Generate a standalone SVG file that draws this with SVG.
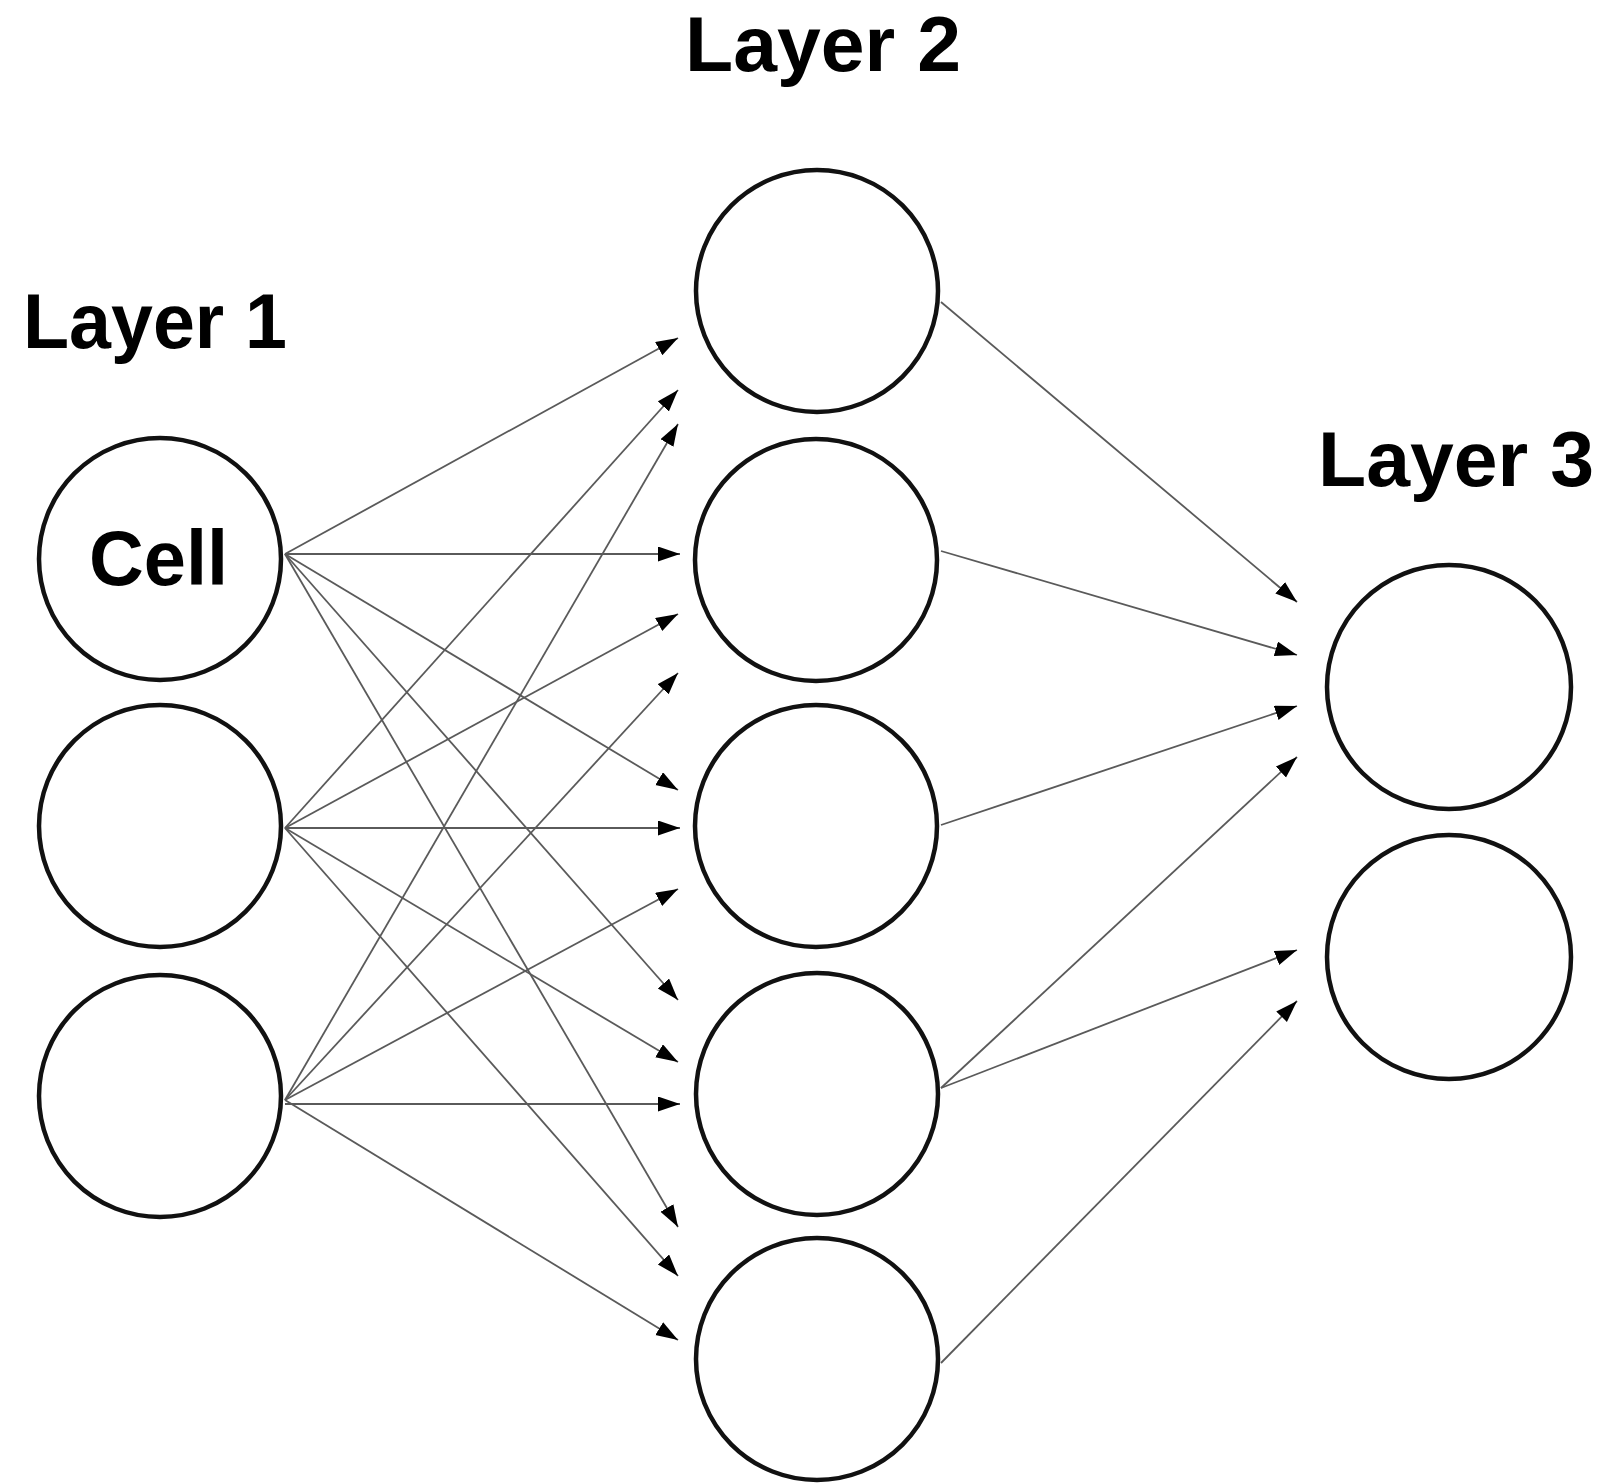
<svg xmlns="http://www.w3.org/2000/svg" width="1607" height="1484" viewBox="0 0 1607 1484">
<defs>
<style>
.node{fill:#fff;stroke:#111;stroke-width:4.5}
.edge{stroke:#5a5a5a;stroke-width:1.8;fill:none;marker-end:url(#arrow)}
.label{font-family:"Liberation Sans",Arial,Helvetica,sans-serif;font-weight:bold;font-size:78px;fill:#000}
</style>
<marker id="arrow" markerUnits="userSpaceOnUse" markerWidth="24" markerHeight="16" refX="22" refY="7.5" orient="auto">
<path d="M0,0 L22,7.5 L0,15 Z" fill="#000"/>
</marker>
</defs>
<rect width="1607" height="1484" fill="#fff"/>
<g id="connectors">
<line class="edge" x1="285" y1="554" x2="678" y2="338"/>
<line class="edge" x1="285" y1="554" x2="680" y2="554"/>
<line class="edge" x1="285" y1="554" x2="678" y2="790"/>
<line class="edge" x1="285" y1="554" x2="678" y2="1000"/>
<line class="edge" x1="285" y1="554" x2="678" y2="1227"/>
<line class="edge" x1="285" y1="828" x2="678" y2="390"/>
<line class="edge" x1="285" y1="828" x2="678" y2="614"/>
<line class="edge" x1="285" y1="828" x2="680" y2="828"/>
<line class="edge" x1="285" y1="828" x2="678" y2="1062"/>
<line class="edge" x1="285" y1="828" x2="678" y2="1276"/>
<line class="edge" x1="285" y1="1100" x2="678" y2="424"/>
<line class="edge" x1="285" y1="1100" x2="678" y2="673"/>
<line class="edge" x1="285" y1="1100" x2="678" y2="889"/>
<line class="edge" x1="285" y1="1104" x2="680" y2="1104"/>
<line class="edge" x1="285" y1="1100" x2="678" y2="1340"/>
<line class="edge" x1="941" y1="302" x2="1297" y2="602"/>
<line class="edge" x1="941" y1="551" x2="1297" y2="655"/>
<line class="edge" x1="941" y1="825" x2="1297" y2="706"/>
<line class="edge" x1="941" y1="1088" x2="1297" y2="757"/>
<line class="edge" x1="941" y1="1088" x2="1297" y2="950"/>
<line class="edge" x1="941" y1="1363" x2="1297" y2="1001"/>
</g>
<g id="layer1-node1"><circle class="node" cx="160" cy="559" r="121"/><text class="label" x="89" y="585" textLength="139" lengthAdjust="spacingAndGlyphs">Cell</text></g>
<g id="layer1-node2"><circle class="node" cx="160" cy="826" r="121"/></g>
<g id="layer1-node3"><circle class="node" cx="160" cy="1096" r="121"/></g>
<g id="layer2-node1"><circle class="node" cx="817" cy="291" r="121"/></g>
<g id="layer2-node2"><circle class="node" cx="816" cy="560" r="121"/></g>
<g id="layer2-node3"><circle class="node" cx="816" cy="826" r="121"/></g>
<g id="layer2-node4"><circle class="node" cx="817" cy="1094" r="121"/></g>
<g id="layer2-node5"><circle class="node" cx="817" cy="1359" r="121"/></g>
<g id="layer3-node1"><circle class="node" cx="1449" cy="687" r="122"/></g>
<g id="layer3-node2"><circle class="node" cx="1449" cy="957" r="122"/></g>
<g id="titles">
<text class="label" x="23" y="348" textLength="264" lengthAdjust="spacingAndGlyphs">Layer 1</text>
<text class="label" x="685" y="71" textLength="276" lengthAdjust="spacingAndGlyphs">Layer 2</text>
<text class="label" x="1318" y="486" textLength="276" lengthAdjust="spacingAndGlyphs">Layer 3</text>
</g>
</svg>
